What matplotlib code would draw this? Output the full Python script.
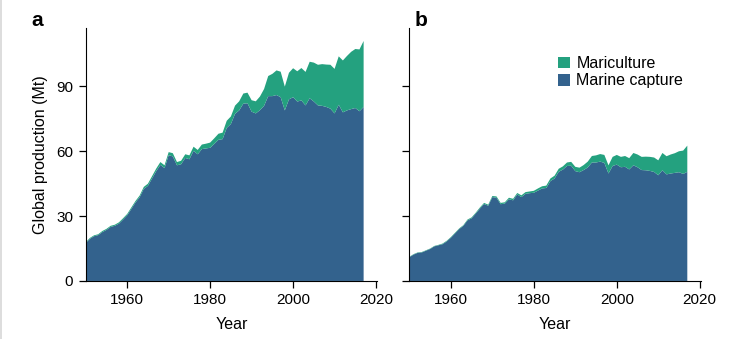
import numpy as np
import matplotlib.pyplot as plt
from matplotlib.patches import Patch, Rectangle

plt.rcParams['font.family'] = ['Liberation Sans', 'DejaVu Sans']

years = np.arange(1950, 2018)

# a: live weight (Mt)
capture_a = [17.5, 19.5, 20.7, 21.2, 22.6, 23.6, 25.0, 25.5, 26.5, 28.4,
             30.4, 33.3, 36.3, 38.7, 42.6, 44.0, 47.4, 50.8, 53.7, 52.2,
             58.2, 57.6, 53.5, 54.0, 56.9, 56.3, 60.2, 58.6, 61.0, 61.3,
             61.6, 63.4, 65.3, 65.6, 70.8, 72.6, 77.3, 78.9, 82.0, 82.2,
             78.3, 77.5, 79.0, 81.0, 85.5, 85.5, 86.0, 85.0, 78.9, 84.0,
             85.0, 83.0, 83.5, 81.2, 84.5, 83.0, 81.2, 81.0, 80.5, 79.7,
             77.5, 81.5, 78.0, 78.9, 79.5, 80.0, 78.5, 80.5]
mariculture_a = [0.4, 0.4, 0.4, 0.4, 0.5, 0.5, 0.5, 0.5, 0.6, 0.6,
                 0.6, 0.7, 0.7, 0.8, 0.9, 1.0, 1.1, 1.2, 1.3, 1.3,
                 1.4, 1.5, 1.5, 1.6, 1.7, 1.8, 1.9, 2.0, 2.1, 2.2,
                 2.4, 2.6, 2.8, 3.0, 3.3, 3.5, 3.8, 4.2, 4.7, 4.9,
                 5.3, 5.6, 6.3, 7.8, 9.3, 10.3, 11.4, 11.8, 11.0, 12.3,
                 13.4, 14.0, 15.0, 15.5, 16.9, 18.0, 18.8, 19.3, 19.6, 20.3,
                 20.6, 22.4, 24.0, 25.2, 26.5, 27.3, 28.6, 30.5]

# b: edible weight (Mt)
capture_b = [11.0, 12.2, 13.0, 13.2, 14.0, 14.8, 16.0, 16.5, 17.0, 18.3,
             20.0, 22.0, 24.0, 25.5, 28.0, 29.0, 31.2, 33.5, 35.6, 34.8,
             38.8, 38.5, 35.5, 35.8, 37.8, 37.3, 40.0, 38.8, 40.3, 40.6,
             40.8, 41.8, 42.8, 43.0, 46.2, 47.4, 50.5, 51.5, 53.2, 53.3,
             50.8, 50.3, 51.3, 52.5, 54.8, 54.8, 55.2, 54.6, 49.7, 53.2,
             53.8, 52.6, 52.8, 51.6, 53.5, 52.6, 51.3, 51.2, 50.9, 50.4,
             48.9, 51.2, 49.3, 49.7, 50.0, 50.3, 49.5, 50.5]
mariculture_b = [0.2, 0.2, 0.2, 0.2, 0.2, 0.2, 0.2, 0.2, 0.3, 0.3,
                 0.3, 0.3, 0.3, 0.3, 0.4, 0.4, 0.4, 0.5, 0.5, 0.5,
                 0.5, 0.6, 0.6, 0.6, 0.7, 0.7, 0.7, 0.8, 0.8, 0.8,
                 0.9, 1.0, 1.0, 1.1, 1.2, 1.3, 1.4, 1.5, 1.6, 1.8,
                 2.0, 2.1, 2.3, 2.7, 3.0, 3.3, 3.5, 3.7, 3.8, 4.2,
                 4.5, 4.8, 5.0, 5.2, 5.7, 5.9, 6.1, 6.3, 6.5, 6.7,
                 6.9, 8.0, 8.4, 8.8, 9.1, 9.7, 10.8, 12.1]

labels = ['Mariculture', 'Marine capture']
c_mari = '#24a17f'
c_capt = '#33628d'

fig = plt.figure(figsize=(7.39, 3.46), dpi=100)
ax_a = fig.add_axes([0.116, 0.188, 0.394, 0.731])
ax_b = fig.add_axes([0.554, 0.188, 0.394, 0.731])

for ax, capt, mari in [(ax_a, capture_a, mariculture_a), (ax_b, capture_b, mariculture_b)]:
    ax.stackplot(years, capt, mari, colors=[c_capt, c_mari], linewidth=0)
    ax.set_xlim(1950, 2020.2)
    ax.set_ylim(0, 117)
    ax.set_xticks([1960, 1980, 2000, 2020])
    ax.set_yticks([0, 30, 60, 90])
    ax.spines['top'].set_visible(False)
    ax.spines['right'].set_visible(False)
    ax.tick_params(direction='out', length=5, width=0.9, labelsize=11, pad=4)
    ax.set_xlabel('Year', fontsize=11.5, labelpad=7)

ax_a.set_ylabel('Global production (Mt)', fontsize=11.5, labelpad=6)
ax_b.tick_params(labelleft=False)

fig.text(0.043, 0.968, 'a', fontsize=15, fontweight='bold', va='top')
fig.text(0.561, 0.968, 'b', fontsize=15, fontweight='bold', va='top')

handles = [Patch(facecolor=c_mari, edgecolor='none'), Patch(facecolor=c_capt, edgecolor='none')]
ax_b.legend(handles, labels, loc='upper left', bbox_to_anchor=(0.51, 0.889), frameon=False,
            fontsize=11.5, handlelength=0.75, handleheight=0.75, handletextpad=0.4,
            labelspacing=0.15, borderpad=0, borderaxespad=0)

# thin grey strip down the left edge
fig.patches.append(Rectangle((0, 0.02), 0.003, 0.98, transform=fig.transFigure,
                             facecolor='#dddddd', edgecolor='none'))

fig.savefig('out.png', dpi=100)
